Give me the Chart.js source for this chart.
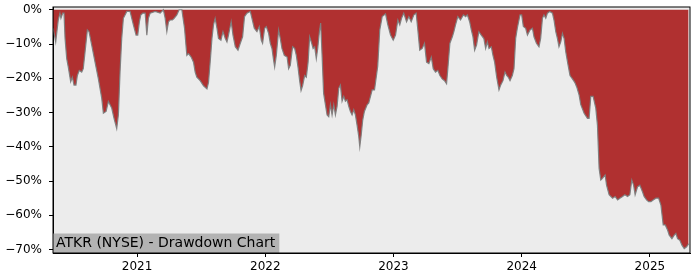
<!DOCTYPE html>
<html>
<head>
<meta charset="utf-8">
<script src="https://cdn.jsdelivr.net/npm/chart.js@4"></script>
<style>
  html, body { margin: 0; padding: 0; background: #ffffff; }
  #box { width: 700px; height: 280px; }
</style>
</head>
<body>
<div id="box"><canvas id="grafico" width="700" height="280"></canvas></div>
<script>
// --- DATOS: drawdown (%) por fecha (año decimal) ---
const dates2020 = [2020.345, 2020.365, 2020.385, 2020.398, 2020.406, 2020.420, 2020.430, 2020.438, 2020.451, 2020.463,
    2020.482, 2020.495, 2020.508, 2020.523, 2020.534, 2020.549, 2020.568, 2020.580, 2020.594, 2020.612,
    2020.625, 2020.646, 2020.672, 2020.698, 2020.724, 2020.737, 2020.758, 2020.776, 2020.802, 2020.820,
    2020.841, 2020.854, 2020.867, 2020.880, 2020.893, 2020.920, 2020.945, 2020.971, 2020.992];
const values2020 = [-5.4, -9.4, -3, -1, -2.5, -1, -1, -8.4, -14.3, -16.7,
    -21, -19.7, -22, -22, -19.2, -17.7, -18.2, -17.2, -12.3, -5.9,
    -6.4, -10.3, -15.3, -20.2, -25.8, -30.2, -29.7, -26.8, -28.7, -31.7,
    -34.7, -30.7, -18.2, -8.4, -2.5, -0.5, -0.5, -4.4, -7.4];

const dates2021 = [2021.005, 2021.018, 2021.029, 2021.045, 2021.063, 2021.076, 2021.088, 2021.102, 2021.141, 2021.180,
    2021.205, 2021.219, 2021.232, 2021.245, 2021.258, 2021.276, 2021.289, 2021.310, 2021.328, 2021.349,
    2021.370, 2021.388, 2021.401, 2021.422, 2021.440, 2021.453, 2021.466, 2021.492, 2021.518, 2021.545,
    2021.557, 2021.570, 2021.584, 2021.596, 2021.609, 2021.623, 2021.635, 2021.654, 2021.670, 2021.688,
    2021.701, 2021.713, 2021.734, 2021.748, 2021.766, 2021.787, 2021.805, 2021.823, 2021.838, 2021.857,
    2021.883, 2021.896, 2021.914, 2021.935, 2021.953, 2021.969, 2021.979, 2021.995];
const values2021 = [-7.4, -3.5, -1.5, -1, -1, -7.4, -2.5, -1, -0.5, -1,
    0, -2.5, -6.4, -3.5, -3, -3, -2.5, -1.5, 0, 0,
    -5.4, -13.3, -12.8, -13.8, -15.3, -18.2, -19.7, -20.7, -22.2, -23.1,
    -21.2, -15.3, -8.4, -4.4, -2.5, -5.4, -8.4, -8.9, -6.4, -8.4,
    -9.4, -7.4, -3.5, -7.4, -10.8, -11.8, -9.8, -7.9, -2, -1,
    -0.5, -2.5, -5.4, -6.4, -4.9, -8.9, -9.8, -5.4];

const dates2022 = [2022.008, 2022.026, 2022.039, 2022.052, 2022.065, 2022.073, 2022.086, 2022.104, 2022.117, 2022.130,
    2022.148, 2022.170, 2022.182, 2022.195, 2022.213, 2022.229, 2022.242, 2022.255, 2022.268, 2022.279,
    2022.291, 2022.307, 2022.320, 2022.334, 2022.346, 2022.359, 2022.373, 2022.385, 2022.398, 2022.409,
    2022.422, 2022.432, 2022.443, 2022.455, 2022.469, 2022.482, 2022.495, 2022.508, 2022.521, 2022.534,
    2022.547, 2022.560, 2022.573, 2022.586, 2022.599, 2022.612, 2022.625, 2022.638, 2022.651, 2022.664,
    2022.677, 2022.690, 2022.703, 2022.716, 2022.729, 2022.737, 2022.748, 2022.760, 2022.773, 2022.795,
    2022.807, 2022.834, 2022.852, 2022.877, 2022.893, 2022.912, 2022.938, 2022.956, 2022.977, 2022.998];
const values2022 = [-4.9, -6.9, -9.8, -11.3, -14.8, -16.7, -13.3, -5.9, -8.4, -11.3,
    -13.3, -13.8, -17.2, -16.2, -10.8, -11.3, -13.3, -16.7, -20.7, -23.6,
    -22.2, -19.2, -19.7, -15.3, -7.9, -9.4, -11.3, -10.8, -14.3, -11.3,
    -6.4, -3.9, -13.3, -24.4, -27.7, -30.7, -31.2, -27.7, -30.7, -27.7,
    -30.7, -28.2, -22.9, -22, -26.7, -25.3, -26.7, -26.3, -28.2, -29.7,
    -30.7, -29.2, -30.7, -33.7, -37, -40, -36.6, -32.2, -29.7, -27.7,
    -27.2, -23.4, -23.4, -16.5, -5.9, -2, -1.2, -4.4, -7.4, -8.9];

const dates2023 = [2023.016, 2023.034, 2023.049, 2023.063, 2023.080, 2023.102, 2023.120, 2023.138, 2023.159, 2023.177,
    2023.190, 2023.205, 2023.224, 2023.242, 2023.258, 2023.276, 2023.295, 2023.310, 2023.328, 2023.346,
    2023.362, 2023.380, 2023.398, 2023.414, 2023.424, 2023.440, 2023.459, 2023.471, 2023.484, 2023.502,
    2023.523, 2023.545, 2023.563, 2023.576, 2023.594, 2023.607, 2023.620, 2023.633, 2023.648, 2023.666,
    2023.685, 2023.705, 2023.719, 2023.732, 2023.745, 2023.763, 2023.776, 2023.789, 2023.805, 2023.823,
    2023.836, 2023.854, 2023.870, 2023.883, 2023.896, 2023.909, 2023.927, 2023.940, 2023.953, 2023.966,
    2023.987];
const values2023 = [-7.4, -3, -4.4, -2.5, -1, -3.5, -2, -3.5, -1.5, -1,
    -5.9, -11.8, -11.3, -9.8, -15.3, -15.7, -13.8, -17.2, -18.2, -17.7,
    -19.2, -20.2, -20.7, -21.6, -17.2, -9.8, -7.9, -6.4, -4.4, -2,
    -3, -1.5, -2, -1.5, -3.5, -5.9, -7.9, -11.8, -10.3, -6.4,
    -7.4, -8.4, -11.3, -9.4, -11.3, -10.8, -13.3, -15.3, -19.7, -23.4,
    -22, -20.7, -18.2, -19.2, -19.7, -20.7, -19.2, -17.2, -8.4, -5.4,
    -1.5];

const dates2024 = [2024.000, 2024.013, 2024.031, 2024.045, 2024.065, 2024.084, 2024.096, 2024.115, 2024.135, 2024.148,
    2024.162, 2024.174, 2024.188, 2024.201, 2024.219, 2024.240, 2024.252, 2024.266, 2024.279, 2024.291,
    2024.305, 2024.318, 2024.331, 2024.344, 2024.362, 2024.377, 2024.396, 2024.414, 2024.430, 2024.448,
    2024.461, 2024.487, 2024.513, 2024.526, 2024.539, 2024.557, 2024.578, 2024.591, 2024.604, 2024.617,
    2024.630, 2024.651, 2024.662, 2024.682, 2024.709, 2024.729, 2024.748, 2024.766, 2024.787, 2024.805,
    2024.826, 2024.844, 2024.859, 2024.873, 2024.885, 2024.904, 2024.922, 2024.943, 2024.955, 2024.974,
    2024.990];
const values2024 = [-1.5, -4.9, -5.4, -7.4, -5.9, -5.4, -7.9, -9.8, -10.8, -8.4,
    -2.5, -1.5, -2.5, -1, -0.5, -1, -3, -6.4, -8.4, -10.8,
    -9.4, -6.9, -8.4, -12.3, -16.2, -19.2, -20.2, -21.2, -22.6, -24.9,
    -27.7, -30.2, -31.7, -31.7, -25.3, -25.3, -28.7, -33.7, -46.3, -49.7,
    -49.2, -48.2, -51.2, -54, -55, -54.5, -55.5, -55, -54.5, -54,
    -54.5, -54, -49.7, -51.2, -54, -51.7, -51.2, -53.2, -54.5, -55.5,
    -56];

const dates2025 = [2025.008, 2025.026, 2025.047, 2025.068, 2025.086, 2025.104, 2025.120, 2025.138, 2025.151, 2025.172,
    2025.190, 2025.203, 2025.216, 2025.234, 2025.250, 2025.268, 2025.287, 2025.302];
const values2025 = [-56, -55.5, -55, -55, -57, -62.8, -62.8, -64.3, -65.8, -66.8,
    -65.8, -65.3, -66.8, -67.3, -68.7, -69.7, -69.2, -68.3];

const yearTicks = [2021, 2022, 2023, 2024, 2025];
const pctTicks = [0, -10, -20, -30, -40, -50, -60, -70];
const chartLabel = 'ATKR (NYSE) - Drawdown Chart';

// --- construir serie ---
const allDates = [].concat(dates2020, dates2021, dates2022, dates2023, dates2024, dates2025);
const allValues = [].concat(values2020, values2021, values2022, values2023, values2024, values2025);
const puntos = allDates.map((d, i) => ({ x: d, y: allValues[i] }));

const FONT = '"DejaVu Sans", sans-serif';

// fondo gris del área y marco negro + etiqueta
const decoracion = {
    id: 'decoracion',
    beforeDraw(chart) {
        const { ctx, chartArea: a } = chart;
        ctx.save();
        ctx.fillStyle = '#ececec';
        ctx.fillRect(a.left, a.top, a.right - a.left, a.bottom - a.top);
        ctx.restore();
    },
    afterDraw(chart) {
        const { ctx, chartArea: a } = chart;
        ctx.save();
        ctx.font = '14px ' + FONT;
        const w = ctx.measureText(chartLabel).width;
        ctx.fillStyle = '#b3b3b3';
        ctx.fillRect(a.left, a.bottom - 19.5, w + 7, 19.5);
        ctx.fillStyle = '#000000';
        ctx.textBaseline = 'middle';
        ctx.fillText(chartLabel, a.left + 3, a.bottom - 9.5);
        ctx.strokeStyle = '#000000';
        ctx.lineWidth = 1;
        ctx.strokeRect(a.left, a.top, a.right - a.left, a.bottom - a.top);
        ctx.restore();
    }
};

new Chart(document.getElementById('grafico'), {
    type: 'line',
    data: {
        datasets: [{
            label: chartLabel,
            data: puntos,
            borderColor: 'rgba(125, 125, 125, 0.95)',
            backgroundColor: '#b03030',
            borderWidth: 1.2,
            pointRadius: 0,
            fill: 'origin',
            tension: 0
        }]
    },
    options: {
        responsive: false,
        animation: false,
        layout: { padding: { left: 0, top: 7, right: 10, bottom: 0 } },
        scales: {
            x: {
                type: 'linear',
                min: 2020.344,
                max: 2025.313,
                afterBuildTicks: (s) => { s.ticks = yearTicks.map(v => ({ value: v })); },
                afterFit: (s) => { s.height = 27; s.paddingLeft = 0; s.paddingRight = 0; },
                ticks: {
                    callback: (v) => String(v),
                    color: '#000000',
                    font: { family: FONT, size: 12 },
                    padding: 3,
                    maxRotation: 0
                },
                grid: { drawOnChartArea: false, drawTicks: true, tickLength: 4, color: '#000000' },
                border: { display: true, color: '#000000', width: 1 }
            },
            y: {
                min: -71,
                max: 0.8,
                afterBuildTicks: (s) => { s.ticks = pctTicks.map(v => ({ value: v })); },
                afterFit: (s) => { s.width = 53; s.paddingTop = 0; s.paddingBottom = 0; },
                ticks: {
                    callback: (v) => (v < 0 ? '\u2212' + Math.abs(v) : v) + '%',
                    color: '#000000',
                    font: { family: FONT, size: 12 },
                    padding: 7
                },
                grid: { drawOnChartArea: false, drawTicks: true, tickLength: 4, color: '#000000' },
                border: { display: true, color: '#000000', width: 1 }
            }
        },
        plugins: {
            legend: { display: false },
            tooltip: { enabled: false }
        }
    },
    plugins: [decoracion]
});
</script>
</body>
</html>
